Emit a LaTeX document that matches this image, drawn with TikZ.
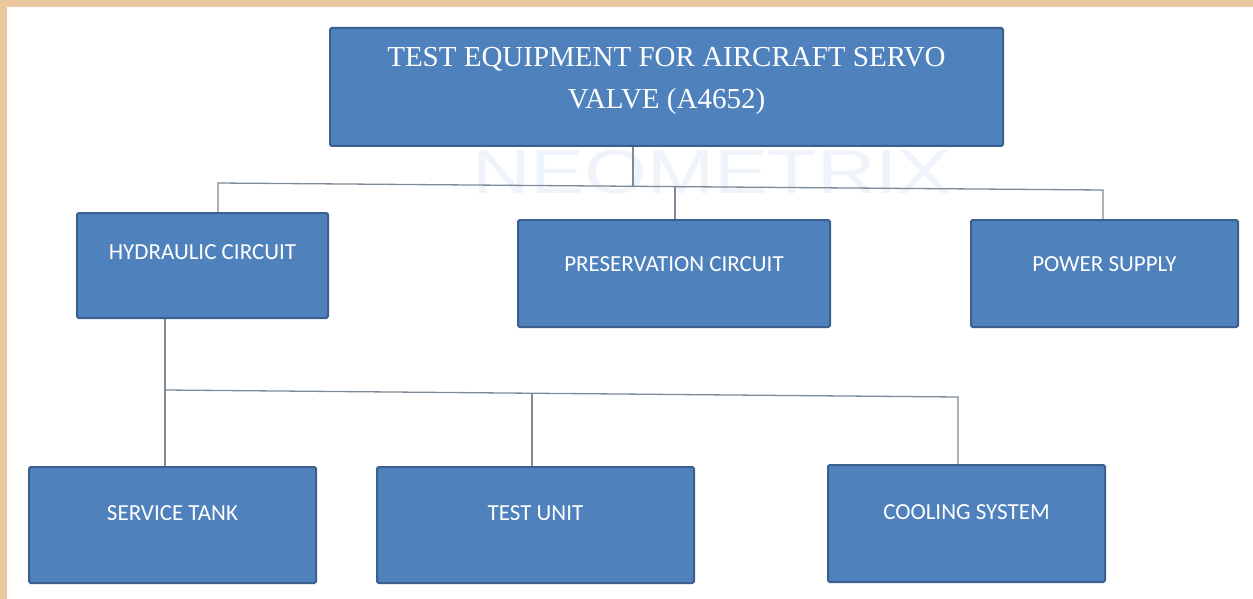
\documentclass[tikz,border=0pt]{standalone}
\usepackage{fontspec}
\setmainfont{Liberation Serif}
\newfontfamily\boxfont{Carlito}
\newfontfamily\wmfont{Liberation Sans}
\definecolor{boxfill}{HTML}{4F81BD}
\definecolor{boxline}{HTML}{3B6090}
\definecolor{connline}{HTML}{7D8B99}
\definecolor{frame}{HTML}{EBC7A0}
\definecolor{wm}{HTML}{EEF4FA}
\begin{document}
\begin{tikzpicture}[x=1pt,y=-1pt,
  box/.style={draw=boxline, line width=2pt, fill=boxfill, rounded corners=1.5pt, inner sep=0pt, text=white},
  lbl/.style={font=\boxfont\fontsize{23}{27}\selectfont},
  conn/.style={draw=connline, line width=1.3pt}]
\useasboundingbox (0,0) rectangle (1253,599);
\fill[white] (0,0) rectangle (1253,599);
\fill[frame] (0,0) rectangle (1253,7);
\fill[frame] (0,0) rectangle (7,599);
\node[text=wm, font=\wmfont\fontsize{62}{62}\selectfont, xscale=1.3] (wmark) at (712,172) {NEOMETRIX};
% boxes
\node[box, minimum width=673pt, minimum height=118pt] (top) at (666.5,87)
  {\raisebox{2pt}[0pt][0pt]{\fontsize{29}{42}\selectfont\begin{tabular}{@{}c@{}}TEST EQUIPMENT FOR AIRCRAFT SERVO\\ VALVE (A4652)\end{tabular}}};
\node[box, lbl, minimum width=251pt, minimum height=105pt] (hyd) at (202.5,265.5)
  {\raisebox{6pt}[0pt][0pt]{HYDRAULIC CIRCUIT}};
\node[box, lbl, minimum width=312pt, minimum height=107pt] (pres) at (674,273.5)
  {\raisebox{2pt}[0pt][0pt]{PRESERVATION CIRCUIT}};
\node[box, lbl, minimum width=267pt, minimum height=107pt] (pow) at (1104.5,273.5)
  {\raisebox{2pt}[0pt][0pt]{POWER SUPPLY}};
\node[box, lbl, minimum width=287pt, minimum height=116pt] (tank) at (172.5,525)
  {\raisebox{5pt}[0pt][0pt]{SERVICE TANK}};
\node[box, lbl, minimum width=317pt, minimum height=116pt] (unit) at (535.5,525)
  {\raisebox{5pt}[0pt][0pt]{TEST UNIT}};
\node[box, lbl, minimum width=277pt, minimum height=117pt] (cool) at (966.5,523.5)
  {\raisebox{4pt}[0pt][0pt]{COOLING SYSTEM}};
% connectors, level 1
\coordinate (t1) at (633,186);
\coordinate (h1) at (218,183);
\coordinate (p1) at (675,187);
\coordinate (w1) at (1103,190);
\draw[conn] (top.south -| t1) -- (t1);
\draw[conn] (hyd.north -| h1) -- (h1) -- (w1) -- (pow.north -| w1);
\draw[conn] (p1) -- (pres.north -| p1);
% connectors, level 2
\coordinate (h2) at (165,390);
\coordinate (u2) at (532,393);
\coordinate (c2) at (958,397);
\draw[conn] (hyd.south -| h2) -- (tank.north -| h2);
\draw[conn] (h2) -- (c2) -- (cool.north -| c2);
\draw[conn] (u2) -- (unit.north -| u2);
\end{tikzpicture}
\end{document}
